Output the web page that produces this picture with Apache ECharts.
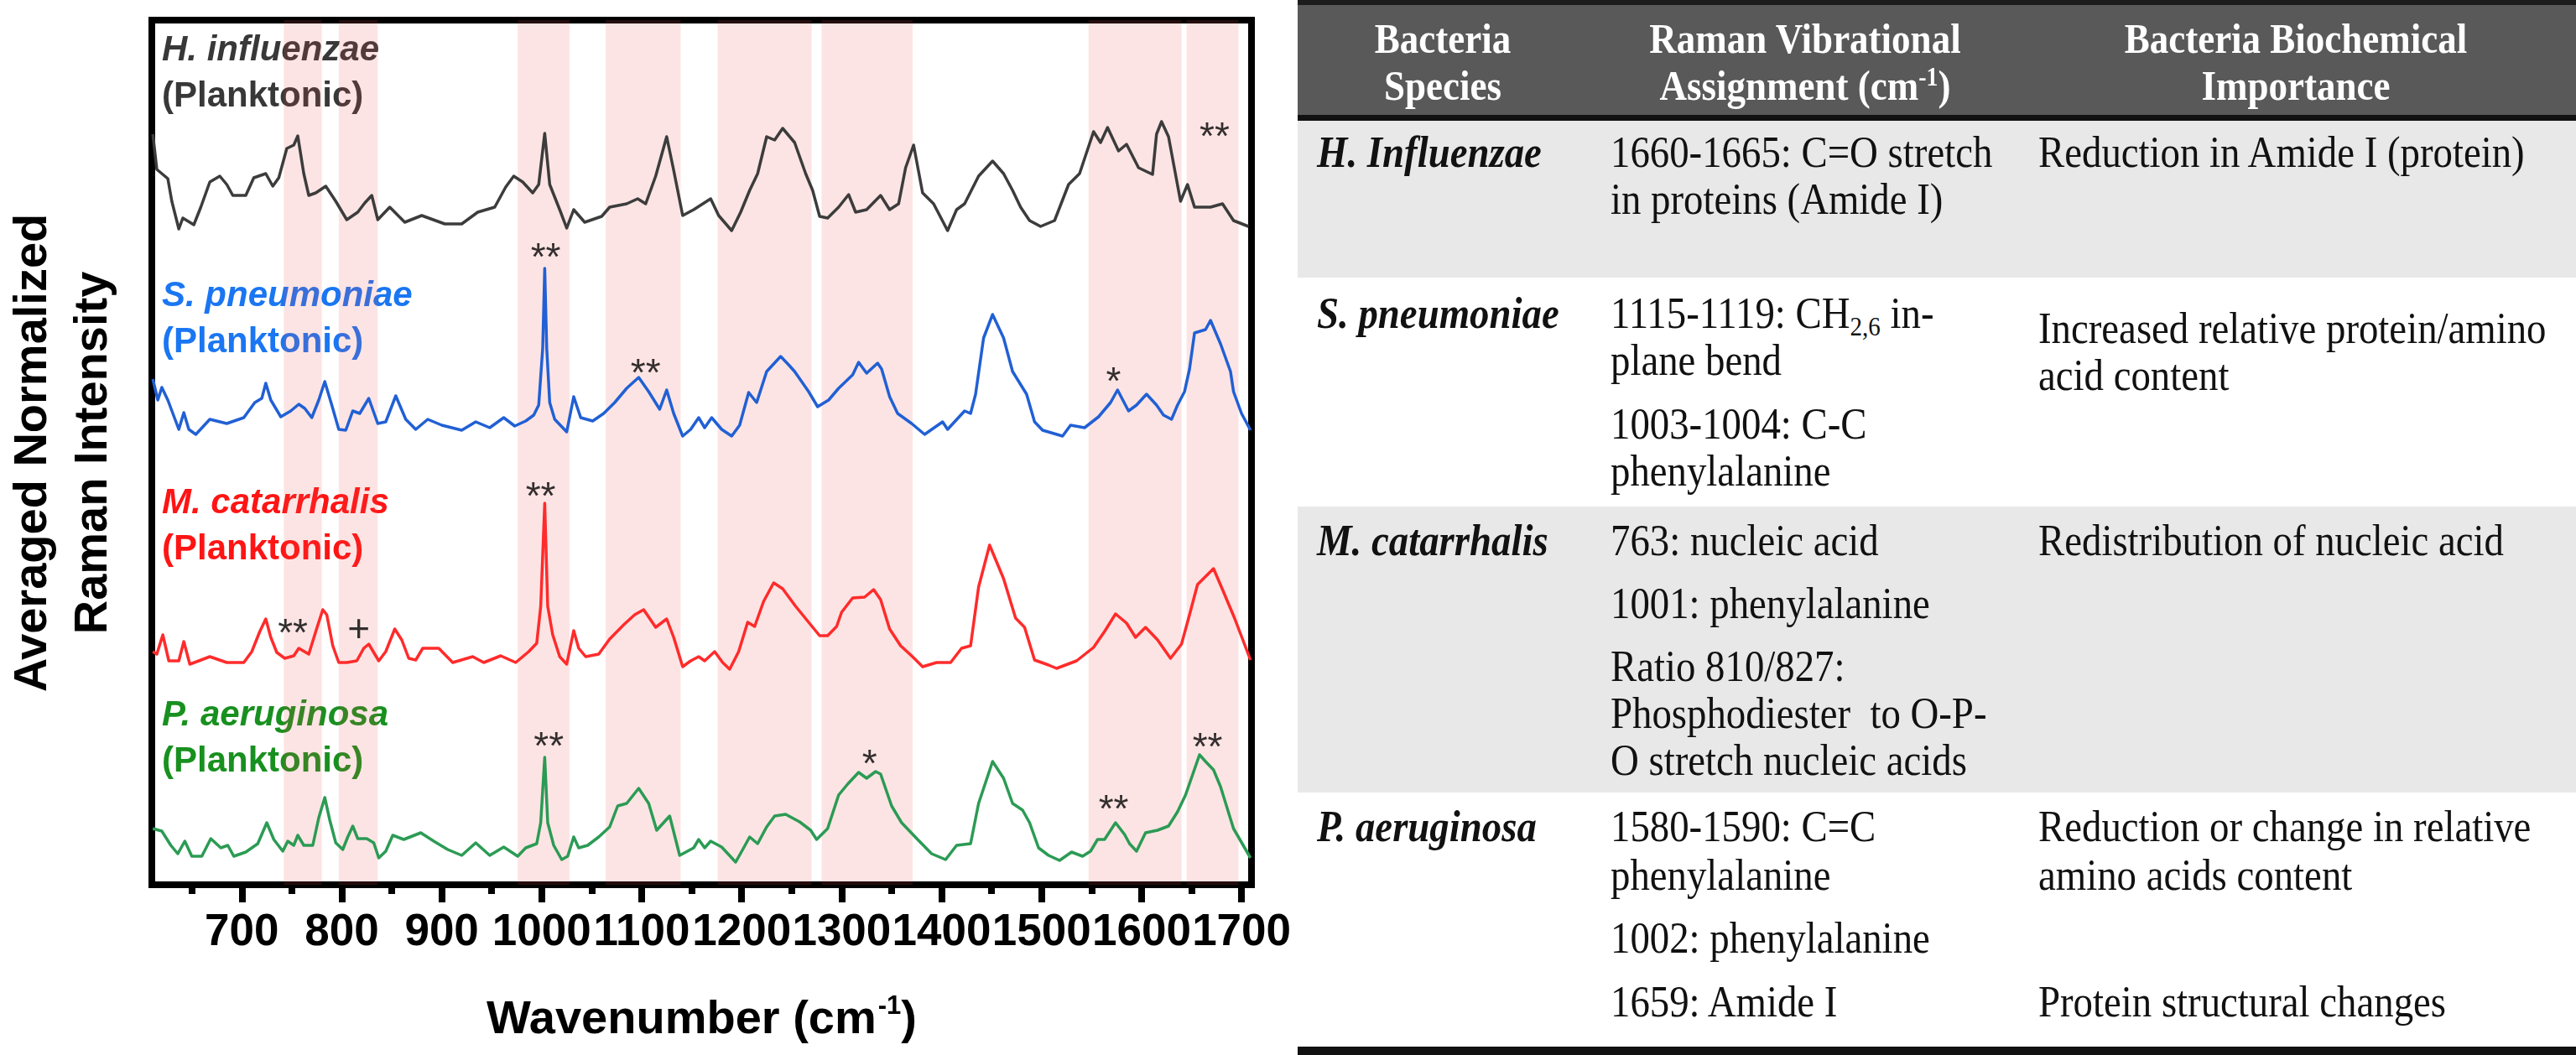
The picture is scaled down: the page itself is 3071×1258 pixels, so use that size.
<!DOCTYPE html>
<html><head><meta charset="utf-8">
<script src="https://cdn.jsdelivr.net/npm/echarts@6/dist/echarts.min.js"></script>
<style>
html,body{margin:0;padding:0;background:#fff;width:3071px;height:1258px;overflow:hidden;}
#chart{position:absolute;left:0;top:0;width:1547px;height:1258px;}
#tbl{position:absolute;left:1547px;top:0;width:1524px;height:1258px;}
.band{position:absolute;left:0;width:1524px;}
.t{position:absolute;white-space:nowrap;font-family:"Liberation Serif","Times New Roman",serif;transform:scaleX(0.9);transform-origin:0 0;color:#111;font-size:52px;line-height:56px;}
.h{color:#fff;font-weight:bold;font-size:50px;text-align:center;width:800px;transform-origin:50% 0;}
.sp{font-weight:bold;font-style:italic;}
.sub{font-size:0.62em;position:relative;top:0.28em;}
.sup{font-size:0.62em;position:relative;top:-0.55em;}
</style></head><body>
<div id="chart"></div>
<div id="tbl"></div>
<script>
// ---------- data (wavenumber, offset intensity) ----------
const hInfluenzae = [[611,89.5],[615,85.3],[626,84.2],[630,81.5],[637,78.2],[641,79.5],[652,78.7],[659,80.8],[668,83.8],[678,84.5],[685,83.5],[691,82.2],[704,82.2],[712,84.3],[724,84.8],[731,83.3],[737,84.3],[745,87.8],[752,88.2],[756,89.3],[762,84.8],[767,82.2],[774,82.5],[784,83.3],[794,81.5],[805,79.3],[816,80.2],[823,81.3],[830,82.2],[836,79.3],[848,80.8],[863,79.0],[880,79.8],[903,78.8],[920,78.8],[936,80.2],[953,80.8],[964,83.2],[972,84.5],[981,83.8],[991,82.5],[997,83.5],[1003,89.6],[1008,83.5],[1018,80.5],[1025,78.3],[1032,80.5],[1043,79.0],[1060,79.7],[1068,80.8],[1085,81.2],[1096,81.8],[1104,81.2],[1114,84.5],[1125,89.2],[1132,85.2],[1141,79.8],[1152,80.5],[1169,81.8],[1177,79.8],[1190,78.0],[1199,80.2],[1208,82.8],[1216,84.8],[1225,89.2],[1233,88.8],[1241,90.2],[1253,88.5],[1264,84.8],[1271,82.8],[1278,79.7],[1286,79.5],[1297,80.8],[1307,82.3],[1314,80.2],[1325,80.5],[1339,82.2],[1348,80.5],[1357,81.2],[1364,85.5],[1372,88.2],[1381,82.5],[1392,81.2],[1406,78.0],[1415,80.5],[1423,81.2],[1437,84.5],[1451,86.3],[1462,84.8],[1471,82.8],[1479,80.8],[1488,79.2],[1499,78.5],[1513,79.2],[1527,83.5],[1538,84.8],[1552,89.8],[1559,88.5],[1566,90.3],[1577,87.5],[1585,88.3],[1597,85.5],[1611,84.7],[1615,89.5],[1620,91.0],[1627,89.2],[1639,81.5],[1646,83.5],[1653,80.8],[1669,80.8],[1681,81.2],[1692,79.2],[1707,78.5]];

const sPneumoniae = [[611,60.3],[616,57.8],[620,59.3],[626,57.8],[637,54.3],[642,56.3],[647,54.3],[654,53.7],[668,55.5],[685,55.0],[702,55.7],[713,57.5],[720,58.0],[724,59.8],[729,57.8],[739,55.8],[749,56.5],[757,57.3],[763,56.8],[770,55.7],[777,57.8],[783,60.0],[790,57.2],[797,54.3],[804,54.2],[811,56.5],[818,56.2],[827,58.0],[836,55.0],[844,55.2],[854,58.3],[864,55.5],[874,54.3],[886,55.5],[900,54.8],[920,54.2],[934,55.2],[948,54.5],[962,55.7],[973,54.7],[984,55.3],[992,56.0],[997,57.2],[1001,64.0],[1003,73.5],[1005,64.0],[1008,57.5],[1013,55.5],[1025,54.0],[1032,58.2],[1039,55.7],[1051,55.3],[1062,56.2],[1073,57.5],[1085,59.2],[1097,60.5],[1107,58.8],[1118,56.7],[1125,59.0],[1132,56.2],[1141,53.5],[1149,54.3],[1157,55.7],[1163,54.5],[1170,55.7],[1180,54.3],[1190,53.5],[1198,54.8],[1207,58.7],[1215,57.5],[1225,61.2],[1239,63.0],[1247,62.0],[1253,61.2],[1267,58.8],[1276,57.0],[1287,57.8],[1297,59.2],[1311,60.8],[1317,62.3],[1325,61.0],[1336,62.2],[1340,61.5],[1348,58.2],[1356,56.2],[1370,55.0],[1383,53.7],[1401,55.2],[1406,54.3],[1423,56.5],[1429,56.2],[1434,58.5],[1442,65.2],[1451,68.0],[1462,65.2],[1471,61.2],[1485,58.5],[1493,55.2],[1501,54.2],[1521,53.5],[1529,54.8],[1543,54.5],[1557,55.8],[1569,57.5],[1576,59.0],[1587,56.5],[1595,57.2],[1605,58.5],[1615,57.2],[1622,56.0],[1630,55.5],[1636,57.2],[1643,58.8],[1648,61.5],[1653,65.8],[1664,66.2],[1669,67.3],[1679,64.5],[1689,61.2],[1692,58.8],[1700,56.2],[1709,54.2]];

const mCatarrhalis = [[611,27.8],[615,27.5],[621,29.8],[627,26.7],[637,26.7],[642,29.0],[648,26.3],[657,26.7],[668,27.2],[685,26.5],[702,26.5],[710,27.8],[718,30.2],[724,31.7],[729,29.5],[735,27.7],[743,27.0],[752,27.3],[757,28.2],[767,27.5],[774,30.2],[781,32.8],[785,32.2],[791,28.5],[797,26.5],[805,26.5],[815,26.7],[822,28.2],[827,28.7],[837,26.7],[844,27.8],[853,30.5],[860,29.2],[867,27.0],[874,26.8],[881,28.2],[897,28.2],[911,26.5],[931,27.2],[942,26.5],[959,27.3],[974,26.5],[987,27.8],[995,28.8],[999,33.2],[1003,45.5],[1006,33.2],[1011,29.8],[1018,27.2],[1025,26.3],[1032,30.3],[1037,28.2],[1044,27.2],[1057,27.5],[1068,29.3],[1082,31.0],[1093,32.2],[1102,32.8],[1114,30.7],[1125,31.7],[1132,29.5],[1141,26.0],[1149,26.7],[1157,27.2],[1163,26.7],[1173,27.8],[1181,26.5],[1188,25.7],[1197,27.8],[1206,31.3],[1213,30.8],[1222,33.8],[1232,36.0],[1241,35.3],[1254,33.2],[1267,31.3],[1278,29.7],[1286,29.7],[1295,30.8],[1300,32.5],[1311,34.2],[1323,34.3],[1332,35.2],[1339,34.0],[1348,30.5],[1359,28.5],[1370,27.3],[1381,26.0],[1395,26.5],[1409,26.5],[1420,28.2],[1429,28.5],[1437,35.5],[1448,40.5],[1462,36.5],[1474,31.8],[1483,30.7],[1493,26.8],[1507,26.2],[1515,25.8],[1535,26.7],[1552,28.3],[1563,30.2],[1574,32.3],[1585,31.2],[1594,29.5],[1604,30.7],[1616,29.2],[1629,27.0],[1640,28.7],[1648,32.2],[1656,35.8],[1672,37.7],[1681,35.2],[1693,31.8],[1709,26.8]];

const pAeruginosa = [[611,6.7],[620,6.4],[629,4.7],[636,3.7],[643,5.2],[650,3.4],[660,3.4],[669,5.5],[679,4.4],[686,4.7],[692,3.4],[704,3.9],[716,4.9],[725,7.4],[732,5.4],[741,4.0],[746,5.2],[752,4.7],[756,5.9],[762,4.7],[771,4.7],[777,8.0],[783,10.4],[788,7.7],[794,5.0],[801,4.2],[806,5.7],[811,7.0],[816,5.5],[825,5.5],[832,5.0],[837,3.2],[844,4.0],[851,5.9],[862,5.4],[879,6.2],[892,5.2],[906,4.2],[920,3.5],[934,5.0],[948,3.5],[962,4.5],[976,3.4],[984,4.4],[995,4.9],[999,7.4],[1003,15.2],[1006,7.4],[1012,4.7],[1020,3.0],[1026,3.4],[1032,5.7],[1037,4.4],[1046,4.7],[1057,5.7],[1068,6.9],[1076,9.4],[1085,9.7],[1097,11.5],[1107,9.7],[1115,6.5],[1128,8.2],[1138,3.5],[1152,4.4],[1157,5.4],[1163,4.4],[1169,5.2],[1180,4.5],[1194,2.7],[1202,4.4],[1208,5.7],[1216,4.9],[1225,6.9],[1233,8.2],[1244,8.4],[1258,7.5],[1269,6.5],[1275,5.4],[1286,6.7],[1297,10.7],[1306,12.0],[1317,13.4],[1325,12.7],[1334,13.5],[1339,13.2],[1350,9.4],[1360,7.4],[1376,5.4],[1390,3.7],[1404,3.0],[1415,4.7],[1429,4.9],[1437,9.7],[1451,14.7],[1462,12.7],[1471,9.7],[1481,8.9],[1488,7.4],[1497,4.4],[1507,3.5],[1518,2.9],[1530,3.9],[1541,3.4],[1549,4.0],[1556,5.4],[1563,5.4],[1574,7.4],[1583,6.0],[1588,4.9],[1595,4.0],[1604,6.2],[1616,6.5],[1627,7.0],[1636,8.7],[1644,10.7],[1658,15.5],[1664,14.7],[1672,13.7],[1679,11.7],[1692,6.7],[1709,3.2]];

// shaded wavenumber regions
const bands = [[742,780],[797,836],[976,1028],[1064,1139],[1176,1270],[1280,1371],[1547,1640],[1645,1697]];

// peak markers: [wavenumber, level, text]
const annotations = [[1673,90.2,'**'],[1004,75.8,'**'],[1104,62.0,'**'],[1572,61.0,'*'],[999,47.3,'**'],[751,31.0,'**'],[817,30.5,'+'],[1007,17.5,'**'],[1328,15.4,'*'],[1572,10.0,'**'],[1666,17.4,'**']];

const majorTicks = [700,800,900,1000,1100,1200,1300,1400,1500,1600,1700];
const minorTicks = [650,750,850,950,1050,1150,1250,1350,1450,1550,1650];
const xRange = [610,1710];
const yRange = [0,103.1];

const speciesNames = ['H. influenzae','S. pneumoniae','M. catarrhalis','P. aeruginosa'];
const speciesData = [hInfluenzae, sPneumoniae, mCatarrhalis, pAeruginosa];
const lineColors = ['#3c3c3c','#2160d4','#ff2b2b','#2b9b54'];
const labelColors = ['#383838','#1a76f2','#ff1414','#18901f'];
const labelBaselines = [75,368,615,868];

// ---------- chart ----------
const chart = echarts.init(document.getElementById('chart'));
const F = 'Arial, "Liberation Sans", sans-serif';

const graphic = [{
  type:'text', x:76, y:540, rotation:Math.PI/2, z:0,
  style:{text:'Averaged Normalized\nRaman Intensity', font:'bold 56px '+F, fill:'#000', align:'center', verticalAlign:'middle', lineHeight:72}
}];
speciesNames.forEach((n,i)=>{
  graphic.push({type:'text', x:193, y:labelBaselines[i]-15, z:0,
    style:{text:n, font:'italic bold 42px '+F, fill:labelColors[i], align:'left', verticalAlign:'middle'}});
  graphic.push({type:'text', x:193, y:labelBaselines[i]+55-15, z:0,
    style:{text:'(Planktonic)', font:'bold 42px '+F, fill:labelColors[i], align:'left', verticalAlign:'middle'}});
});

const option = {
  animation:false,
  grid:{left:181, top:24, width:1311, height:1031, show:true, borderColor:'#000', borderWidth:8, backgroundColor:'transparent', containLabel:false},
  xAxis:[{
    type:'value', min:xRange[0], max:xRange[1], position:'bottom',
    axisLine:{show:false}, splitLine:{show:false},
    axisTick:{show:true, customValues:majorTicks, length:21, lineStyle:{width:8, color:'#000'}},
    axisLabel:{customValues:majorTicks, formatter:v=>String(v), showMinLabel:true, showMaxLabel:true, hideOverlap:false,
      fontSize:53, fontWeight:'bold', color:'#000', fontFamily:F, margin:31},
    name:'{a|Wavenumber (cm}{s|-1}{a|)}', nameLocation:'middle', nameGap:128,
    nameTextStyle:{rich:{
      a:{fontSize:56, fontWeight:'bold', fontFamily:F, color:'#000', lineHeight:62, verticalAlign:'bottom'},
      s:{fontSize:31, fontWeight:'bold', fontFamily:F, color:'#000', lineHeight:31, verticalAlign:'top', padding:[2,0,0,2]}
    }}
  },{
    type:'value', min:xRange[0], max:xRange[1], position:'bottom',
    axisLine:{show:false}, splitLine:{show:false}, axisLabel:{show:false},
    axisTick:{show:true, customValues:minorTicks, length:11, lineStyle:{width:8, color:'#000'}}
  }],
  yAxis:{type:'value', min:yRange[0], max:yRange[1], show:false},
  graphic:graphic,
  series:[
    ...speciesData.map((d,i)=>({
      type:'line', name:speciesNames[i], data:d, xAxisIndex:0, showSymbol:false, symbol:'none', silent:true, z:2,
      lineStyle:{color:lineColors[i], width:3.5, join:'round'}
    })),
    {
      type:'scatter', xAxisIndex:0, z:3, silent:true, symbolSize:0,
      data:annotations.map(a=>({value:[a[0],a[1]], t:a[2], label:{offset:[0, a[2]==='+'?2:12]}})),
      label:{show:true, position:'inside', formatter:p=>p.data.t, fontSize:46, color:'#000', fontFamily:F}
    },
    {
      type:'line', xAxisIndex:0, data:[], z:5, silent:true,
      markArea:{silent:true, itemStyle:{color:'rgba(242,75,75,0.15)'}, data:bands.map(b=>[{xAxis:b[0]},{xAxis:b[1]}])}
    }
  ]
};
chart.setOption(option);

// ---------- table ----------
const tbl = document.getElementById('tbl');
const tableBands = [[0,6,'#1c1c1c'],[6,137,'#595959'],[137,144,'#111'],[144,331,'#e8e8e8'],[604,945,'#e8e8e8'],[1248,1258,'#111']];
tableBands.forEach(b=>{
  const d=document.createElement('div'); d.className='band';
  d.style.top=b[0]+'px'; d.style.height=(b[1]-b[0])+'px'; d.style.background=b[2];
  tbl.appendChild(d);
});
const headerCells = [[173,62.6,'Bacteria'],[173,119,'Species'],[605,62.6,'Raman Vibrational'],[605,119,'Assignment (cm<span class="sup">-1</span>)'],[1190,62.6,'Bacteria Biochemical'],[1190,119,'Importance']];
headerCells.forEach(c=>{
  const d=document.createElement('div'); d.className='t h';
  d.style.left=(c[0]-400)+'px'; d.style.top=(c[1]-45)+'px'; d.innerHTML=c[2];
  tbl.appendChild(d);
});
const bodyCells = [
  [23,199,'<span class="sp">H. Influenzae</span>'],
  [23,391,'<span class="sp">S. pneumoniae</span>'],
  [23,662,'<span class="sp">M. catarrhalis</span>'],
  [23,1003,'<span class="sp">P. aeruginosa</span>'],
  [373,199,'1660-1665: C=O stretch'],[373,255,'in proteins (Amide I)'],
  [373,391,'1115-1119: CH<span class="sub">2,6</span> in-'],[373,447,'plane bend'],[373,523,'1003-1004: C-C'],[373,579,'phenylalanine'],
  [373,662,'763: nucleic acid'],[373,737,'1001: phenylalanine'],[373,812,'Ratio 810/827:'],[373,868,'Phosphodiester&nbsp; to O-P-'],[373,924,'O stretch nucleic acids'],
  [373,1003,'1580-1590: C=C'],[373,1061,'phenylalanine'],[373,1136,'1002: phenylalanine'],[373,1212,'1659: Amide I'],
  [883,199,'Reduction in Amide I (protein)'],
  [883,409,'Increased relative protein/amino'],[883,465,'acid content'],
  [883,662,'Redistribution of nucleic acid'],
  [883,1003,'Reduction or change in relative'],[883,1061,'amino acids content'],
  [883,1212,'Protein structural changes']
];
bodyCells.forEach(c=>{
  const d=document.createElement('div'); d.className='t';
  d.style.left=c[0]+'px'; d.style.top=(c[1]-45.5)+'px'; d.innerHTML=c[2];
  tbl.appendChild(d);
});
</script>
</body></html>
